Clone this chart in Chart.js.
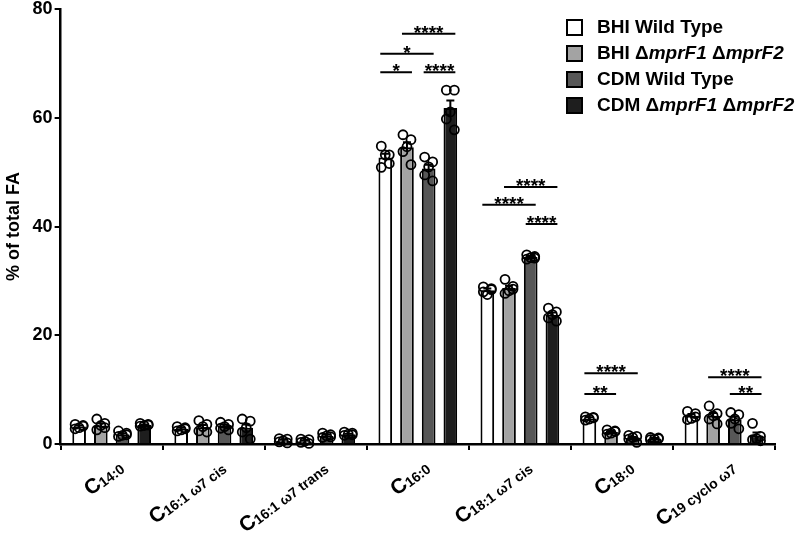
<!DOCTYPE html>
<html>
<head>
<meta charset="utf-8">
<script src="https://cdn.jsdelivr.net/npm/chart.js@4.4.1/dist/chart.umd.min.js"></script>
<style>
  body { margin: 0; background: #fff; }
  #wrap { position: relative; width: 800px; height: 537px; }
  #legend { position: absolute; left: 566px; top: 14px; font: bold 19px "Liberation Sans", Arial, sans-serif; color: #000; }
  #legend .row { height: 26px; display: flex; align-items: center; white-space: nowrap; }
  #legend .box { width: 13px; height: 13px; border: 2px solid #000; margin-right: 14px; flex: none; }
</style>
</head>
<body>
<div id="wrap">
  <canvas id="chart"></canvas>
  <div id="legend"></div>
</div>
<script>
const categories = ['C14:0', 'C16:1 ω7 cis', 'C16:1 ω7 trans', 'C16:0', 'C18:1 ω7 cis', 'C18:0', 'C19 cyclo ω7'];
const seriesNames = ['BHI Wild Type', 'BHI ΔmprF1 ΔmprF2', 'CDM Wild Type', 'CDM ΔmprF1 ΔmprF2'];
const seriesColors = ['#ffffff', '#a3a3a3', '#575757', '#1e1e1e'];

// means
const bhiWT  = [3.2, 2.8, 0.6, 52.7, 28.3, 4.7, 5.2];
const bhiMut = [3.4, 3.1, 0.5, 54.6, 28.7, 2.2, 5.2];
const cdmWT  = [1.8, 3.3, 1.5, 50.7, 34.4, 1.1, 4.5];
const cdmMut = [3.5, 3.0, 1.8, 61.8, 23.8, 1.0, 1.5];

// SEM
const bhiWTSem  = [0.2, 0.2, 0.2, 0.7, 0.3, 0.2, 0.3];
const bhiMutSem = [0.4, 0.4, 0.2, 0.9, 0.4, 0.2, 0.5];
const cdmWTSem  = [0.2, 0.3, 0.2, 0.7, 0.2, 0.2, 0.5];
const cdmMutSem = [0.1, 0.6, 0.1, 1.4, 0.4, 0.1, 0.6];

// individual replicates
const bhiWTPts  = [[3.6, 3.4, 3.0, 2.8, 3.3], [3.2, 3.0, 2.6, 2.4, 2.8], [1.0, 0.9, 0.6, 0.4, 0.2], [54.8, 53.2, 53.2, 50.9, 51.6], [28.9, 28.4, 27.5, 28.0, 28.6], [5.0, 4.8, 4.6, 4.4, 4.9], [6.0, 5.6, 4.7, 4.5, 5.0]];
const bhiMutPts = [[4.6, 3.8, 3.4, 2.6, 3.0], [4.3, 3.6, 3.2, 2.4, 2.2], [0.9, 0.8, 0.5, 0.3, 0.1], [56.9, 56.0, 54.7, 53.8, 51.4], [30.3, 29.0, 28.2, 27.7, 28.5], [2.6, 2.4, 2.0, 1.8, 2.3], [7.0, 5.6, 5.2, 4.6, 3.7]];
const cdmWTPts  = [[2.4, 2.0, 1.6, 1.4, 1.7], [4.0, 3.6, 3.2, 2.9, 2.6], [2.0, 1.7, 1.5, 1.2, 1.3], [52.8, 51.9, 51.0, 49.5, 48.4], [34.8, 34.5, 34.3, 34.0, 34.2], [1.6, 1.4, 1.2, 0.9, 0.3], [5.8, 5.4, 4.6, 3.8, 2.8]];
const cdmMutPts = [[3.8, 3.6, 3.4, 3.3, 3.5], [4.6, 4.2, 3.0, 2.2, 0.9], [2.2, 2.0, 1.8, 1.6, 1.7], [65.1, 65.1, 61.1, 59.8, 57.8], [25.0, 24.3, 23.8, 23.2, 22.6], [1.2, 1.0, 0.9, 0.8, 1.1], [3.8, 1.4, 1.0, 0.8, 0.6]];

// significance brackets: category, from bar, to bar, level (% units), label
const brackets = [
  { cat: 3, from: 1, to: 3, y: 75.5, label: '****' },
  { cat: 3, from: 0, to: 2, y: 71.8, label: '*' },
  { cat: 3, from: 0, to: 1, y: 68.4, label: '*' },
  { cat: 3, from: 2, to: 3, y: 68.4, label: '****' },
  { cat: 4, from: 1, to: 3, y: 47.3, label: '****' },
  { cat: 4, from: 0, to: 2, y: 44.0, label: '****' },
  { cat: 4, from: 2, to: 3, y: 40.5, label: '****' },
  { cat: 5, from: 0, to: 2, y: 13.0, label: '****' },
  { cat: 5, from: 0, to: 1, y: 9.2, label: '**' },
  { cat: 6, from: 1, to: 3, y: 12.3, label: '****' },
  { cat: 6, from: 2, to: 3, y: 9.2, label: '**' }
];

const means = [bhiWT, bhiMut, cdmWT, cdmMut];
const sems = [bhiWTSem, bhiMutSem, cdmWTSem, cdmMutSem];
const points = [bhiWTPts, bhiMutPts, cdmWTPts, cdmMutPts];
const jitter = [-4, 4, 0, -4, 4];
const FONT = '"Liberation Sans", Arial, sans-serif';

// legend
document.getElementById('legend').innerHTML = seriesNames.map((n, i) =>
  '<div class="row"><span class="box" style="background:' + seriesColors[i] + '"></span><span>' +
  n.replace(/Δ(\w+)/g, 'Δ<i>$1</i>') + '</span></div>').join('');

const overlay = {
  id: 'overlay',
  afterDatasetsDraw(chart) {
    const ctx = chart.ctx;
    const y = chart.scales.y;
    ctx.save();
    ctx.strokeStyle = '#000';
    // error bars
    ctx.lineWidth = 2;
    means.forEach((m, d) => {
      const meta = chart.getDatasetMeta(d);
      m.forEach((v, j) => {
        const x = meta.data[j].x;
        const top = y.getPixelForValue(v + sems[d][j]);
        const bot = y.getPixelForValue(v - sems[d][j]);
        ctx.beginPath();
        ctx.moveTo(x, bot); ctx.lineTo(x, top);
        ctx.moveTo(x - 4, top); ctx.lineTo(x + 4, top);
        ctx.stroke();
      });
    });
    // replicate points
    ctx.lineWidth = 1.8;
    points.forEach((set, d) => {
      const meta = chart.getDatasetMeta(d);
      set.forEach((reps, j) => {
        reps.forEach((v, k) => {
          ctx.beginPath();
          ctx.arc(meta.data[j].x + jitter[k], y.getPixelForValue(v), 4.5, 0, Math.PI * 2);
          ctx.stroke();
        });
      });
    });
    // brackets
    ctx.lineWidth = 2;
    ctx.fillStyle = '#000';
    ctx.font = 'bold 19px ' + FONT;
    ctx.textAlign = 'center';
    ctx.textBaseline = 'alphabetic';
    brackets.forEach(b => {
      const x1 = chart.getDatasetMeta(b.from).data[b.cat].x - 5;
      const x2 = chart.getDatasetMeta(b.to).data[b.cat].x + 5;
      const py = y.getPixelForValue(b.y);
      ctx.beginPath();
      ctx.moveTo(x1, py); ctx.lineTo(x2, py);
      ctx.stroke();
      ctx.fillText(b.label, (x1 + x2) / 2, py + 5);
    });
    ctx.restore();
  },
  afterDraw(chart) {
    // x tick labels with subscripts
    const ctx = chart.ctx;
    const xs = chart.scales.x;
    const base = chart.chartArea.bottom;
    const ang = -37 * Math.PI / 180;
    ctx.save();
    ctx.fillStyle = '#000';
    ctx.textBaseline = 'alphabetic';
    ctx.textAlign = 'left';
    categories.forEach((c, i) => {
      const big = c.charAt(0);
      const small = c.slice(1);
      ctx.font = 'bold 21px ' + FONT;
      const wb = ctx.measureText(big).width;
      ctx.font = 'bold 14px ' + FONT;
      const ws = ctx.measureText(small).width;
      ctx.save();
      ctx.translate(xs.getPixelForValue(i) + 14, base + 27);
      ctx.rotate(ang);
      ctx.font = 'bold 21px ' + FONT;
      ctx.fillText(big, -(wb + ws), -1);
      ctx.font = 'bold 14px ' + FONT;
      ctx.fillText(small, -ws, 0);
      ctx.restore();
    });
    ctx.restore();
  }
};

new Chart(document.getElementById('chart'), {
  type: 'bar',
  data: {
    labels: categories,
    datasets: seriesNames.map((n, i) => ({
      label: n,
      data: means[i],
      backgroundColor: seriesColors[i],
      borderColor: '#000',
      borderWidth: 2,
      categoryPercentage: 0.85,
      barPercentage: 0.63
    }))
  },
  options: {
    responsive: true,
    maintainAspectRatio: false,
    animation: false,
    layout: { padding: { top: 0, right: 25, bottom: 87, left: 3 } },
    plugins: { legend: { display: false }, tooltip: { enabled: false } },
    scales: {
      x: {
        ticks: { display: false },
        grid: { drawOnChartArea: false, color: '#000', lineWidth: 2, tickLength: 6 },
        border: { color: '#000', width: 2.5 }
      },
      y: {
        min: 0,
        max: 80,
        ticks: { stepSize: 20, color: '#000', padding: 2, font: { family: FONT, size: 18, weight: 'bold', lineHeight: 0.8 } },
        grid: { drawOnChartArea: false, color: '#000', lineWidth: 2, tickLength: 6 },
        border: { color: '#000', width: 2.5 },
        title: { display: true, text: '% of total FA', color: '#000', padding: { top: 0, bottom: 6 }, font: { family: FONT, size: 18, weight: 'bold' } }
      }
    }
  },
  plugins: [overlay]
});
</script>
</body>
</html>
